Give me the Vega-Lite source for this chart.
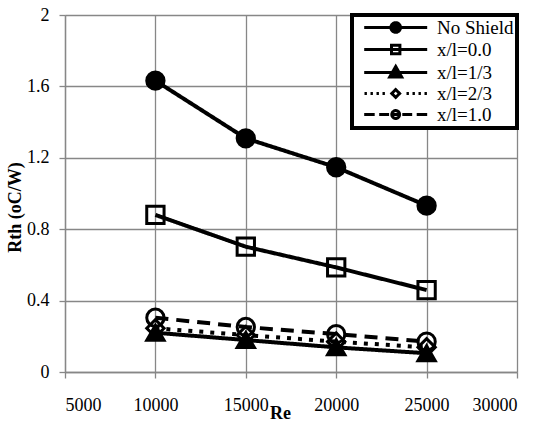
{
  "$schema": "https://vega.github.io/schema/vega-lite/v6.json",
  "width": 452,
  "height": 357,
  "autosize": {"type": "none"},
  "padding": {"left": 65, "top": 15, "right": 25, "bottom": 57},
  "background": "white",
  "config": {
    "view": {"stroke": null},
    "font": "Times New Roman",
    "axis": {
      "gridColor": "#878787", "gridWidth": 1.3, "gridOpacity": 1,
      "domainColor": "#878787", "domainWidth": 1.3,
      "tickColor": "#878787", "tickWidth": 1.3, "tickSize": 6,
      "labelFontSize": 18, "labelColor": "black",
      "titleFont": "Times New Roman", "titleFontSize": 18, "titleFontWeight": "bold", "titleColor": "black"
    }
  },
  "data": {
    "values": [
      {"series": "No Shield", "Re": 10000, "Rth": 1.632},
      {"series": "No Shield", "Re": 15000, "Rth": 1.309},
      {"series": "No Shield", "Re": 20000, "Rth": 1.147},
      {"series": "No Shield", "Re": 25000, "Rth": 0.932},
      {"series": "x/l=0.0", "Re": 10000, "Rth": 0.880},
      {"series": "x/l=0.0", "Re": 15000, "Rth": 0.702},
      {"series": "x/l=0.0", "Re": 20000, "Rth": 0.586},
      {"series": "x/l=0.0", "Re": 25000, "Rth": 0.459},
      {"series": "x/l=1/3", "Re": 10000, "Rth": 0.220},
      {"series": "x/l=1/3", "Re": 15000, "Rth": 0.179},
      {"series": "x/l=1/3", "Re": 20000, "Rth": 0.138},
      {"series": "x/l=1/3", "Re": 25000, "Rth": 0.105},
      {"series": "x/l=2/3", "Re": 10000, "Rth": 0.245},
      {"series": "x/l=2/3", "Re": 15000, "Rth": 0.207},
      {"series": "x/l=2/3", "Re": 20000, "Rth": 0.170},
      {"series": "x/l=2/3", "Re": 25000, "Rth": 0.138},
      {"series": "x/l=1.0", "Re": 10000, "Rth": 0.304},
      {"series": "x/l=1.0", "Re": 15000, "Rth": 0.252},
      {"series": "x/l=1.0", "Re": 20000, "Rth": 0.212},
      {"series": "x/l=1.0", "Re": 25000, "Rth": 0.170}
    ]
  },
  "encoding": {
    "x": {
      "field": "Re", "type": "quantitative",
      "scale": {"domain": [5000, 30000], "nice": false, "zero": false},
      "axis": {"values": [5000, 10000, 15000, 20000, 25000, 30000], "format": "d", "labelFont": "Times New Roman", "labelPadding": 18, "title": "Re", "titleX": 215, "titleY": 46, "titleBaseline": "alphabetic"}
    },
    "y": {
      "field": "Rth", "type": "quantitative",
      "scale": {"domain": [0, 2], "nice": false},
      "axis": {"values": [0, 0.4, 0.8, 1.2, 1.6, 2], "format": "~g", "labelFont": "Times New Roman", "labelPadding": 10, "title": "Rth (oC/W)", "titleX": -45, "titleY": 192, "titleAngle": -90, "titleBaseline": "alphabetic", "titleAlign": "center"}
    }
  },
  "layer": [
    {
      "mark": {"type": "line", "color": "black", "strokeWidth": 4},
      "encoding": {
        "strokeDash": {
          "field": "series", "type": "nominal",
          "scale": {"domain": ["x/l=1.0", "x/l=2/3", "x/l=1/3", "x/l=0.0", "No Shield"], "range": [[13, 8], [4, 7], [1, 0], [1, 0], [1, 0]]},
          "legend": null
        }
      }
    },
    {
      "mark": {"type": "point", "strokeWidth": 3, "size": 300, "opacity": 1},
      "encoding": {
        "fill": {
          "field": "series", "type": "nominal",
          "scale": {"domain": ["x/l=1/3", "No Shield", "x/l=0.0", "x/l=2/3", "x/l=1.0"], "range": ["black", "black", "transparent", "transparent", "transparent"]},
          "legend": null
        },
        "shape": {
          "field": "series", "type": "nominal",
          "scale": {"domain": ["x/l=0.0", "No Shield", "x/l=1/3", "x/l=2/3", "x/l=1.0"], "range": ["square", "circle", "triangle-up", "diamond", "circle"]},
          "legend": null
        },
        "color": {
          "field": "series", "type": "nominal",
          "scale": {"domain": ["No Shield", "x/l=0.0", "x/l=1/3", "x/l=2/3", "x/l=1.0"], "range": ["black", "black", "black", "black", "black"]},
          "legend": {
            "orient": "top-right", "offset": 0, "title": null,
            "symbolSize": 144, "symbolStrokeWidth": 3, "symbolStrokeColor": "black", "symbolOffset": 0,
            "labelFont": "Times New Roman", "labelFontSize": 19, "labelColor": "black",
            "labelOffset": 63, "padding": 3, "rowPadding": 0,
            "strokeColor": "black", "fillColor": "white", "cornerRadius": 0,
            "encoding": {
              "legend": {"strokeWidth": {"value": 4}},
              "symbols": {
                "shape": {"value": {"expr": "datum.value === 'No Shield' ? 'M-0.05,0H10.45M4.4,0A0.8,0.8 0 1,0 6,0A0.8,0.8 0 1,0 4.4,0Z' : datum.value === 'x/l=0.0' ? 'M-0.05,0H10.45M4.5,-0.7H5.9V0.7H4.5Z' : datum.value === 'x/l=1/3' ? 'M-0.05,0H10.45M5.2,-1L6.2,0.75L4.2,0.75Z' : datum.value === 'x/l=2/3' ? 'M0,0H0.4M1,0H1.4M2,0H2.4M3,0H3.4M7,0H7.4M8,0H8.4M9,0H9.4M10,0H10.4M5.2,-0.65L5.85,0L5.2,0.65L4.55,0Z' : 'M-0.05,0H1.7M2.45,0H4.1M6.3,0H7.95M8.7,0H10.45M4.55,0H5.85M4.55,0A0.65,0.65 0 1,0 5.85,0A0.65,0.65 0 1,0 4.55,0Z'"}},
                "fill": {"value": {"expr": "datum.value === 'No Shield' || datum.value === 'x/l=1/3' ? 'black' : 'transparent'"}},
                "strokeWidth": {"value": 3},
                "strokeDash": {"value": [1, 0]},
                "size": {"value": 144},
                "opacity": {"value": 1}
              }
            }
          }
        }
      }
    }
  ]
}
